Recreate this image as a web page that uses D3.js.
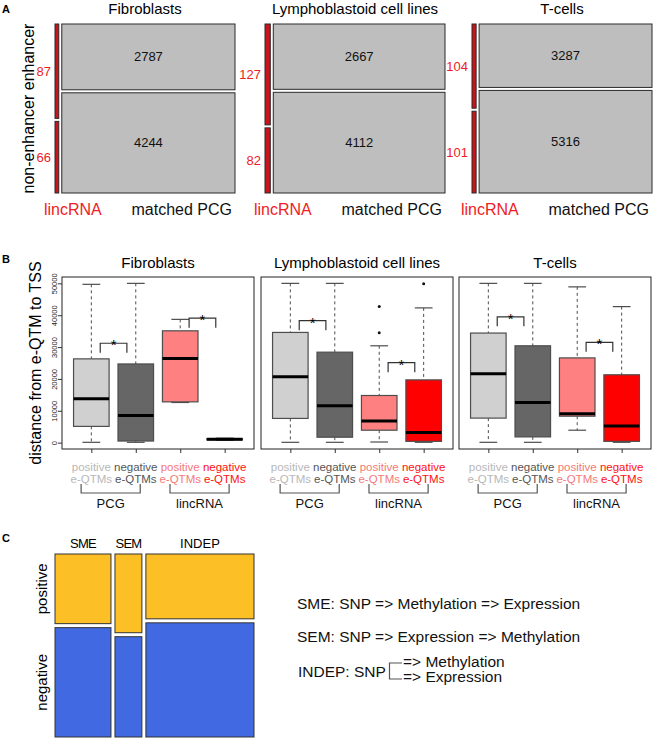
<!DOCTYPE html>
<html><head><meta charset="utf-8">
<script src="https://cdn.jsdelivr.net/npm/d3@7"></script>
<style>
body{margin:0;background:#fff;}
text{font-family:"Liberation Sans",Arial,Helvetica,sans-serif;}
</style>
</head><body>
<svg id="chart" width="653" height="742"></svg>
<script>
// ---------- DATA ----------
const cellTypes = ["Fibroblasts", "Lymphoblastoid cell lines", "T-cells"];

// Panel A: counts (enhancer / non-enhancer)
const aRows = ["enhancer", "non-enhancer"];
const aColumns = ["lincRNA", "matched PCG"];
const lincEnhancer = [87, 127, 104];
const lincNonEnhancer = [66, 82, 101];
const pcgEnhancer = [2787, 2667, 3287];
const pcgNonEnhancer = [4244, 4112, 5316];

// Panel B: box statistics [lower whisker, Q1, median, Q3, upper whisker]
const boxCategories = ["PCG positive", "PCG negative", "lincRNA positive", "lincRNA negative"];
const boxLabelTop = ["positive", "negative", "positive", "negative"];
const boxLabelBottom = ["e-QTMs", "e-QTMs", "e-QTMs", "e-QTMs"];
const boxGroups = ["PCG", "lincRNA"];
const yTicks = [0, 10000, 20000, 30000, 40000, 50000];
const fibroStats = [
  [100, 5100, 13800, 26300, 49700],
  [100, 500, 8500, 24700, 50000],
  [12600, 12800, 26400, 35100, 38700],
  [700, 850, 1050, 1250, 1400]
];
const lymphoStats = [
  [100, 7600, 20700, 34600, 50000],
  [100, 1700, 11600, 28400, 50000],
  [200, 3900, 6800, 14800, 30400],
  [100, 400, 3200, 19700, 42300]
];
const tcellStats = [
  [100, 7700, 21600, 34400, 50000],
  [100, 1800, 12600, 30400, 50000],
  [3900, 8300, 9100, 26600, 48900],
  [100, 400, 5200, 21300, 42700]
];
const fibroOutliers = [[], [], [], []];
const lymphoOutliers = [[], [], [34500, 42700], [49900]];
const tcellOutliers = [[], [], [], []];
const sigPCG = [31200, 38300, 39500];
const sigLinc = [39100, 25100, 31500];

// Panel C: counts
const cCategories = ["SME", "SEM", "INDEP"];
const cRows = ["positive", "negative"];
const cPositive = [114, 62, 205];
const cNegative = [179, 79, 361];
const cLegend = [
  "SME: SNP => Methylation => Expression",
  "SEM: SNP => Expression => Methylation"
];

// ---------- DRAW ----------
const svg = d3.select("#chart");
const RED = "#ee1c24";

function panelLetter(t, x, y) {
  svg.append("text").attr("x", x).attr("y", y).text(t)
    .attr("font-size", 11).attr("font-weight", "bold");
}

// ===== Panel A =====
panelLetter("A", 2, 13);
const aX0 = [55, 265, 472], aW = 180, aY0 = 24, aY1 = 193, aGap = 3;
svg.append("text")
  .attr("transform", `translate(33.5,${(aY0 + aY1) / 2}) rotate(-90)`)
  .attr("text-anchor", "middle").attr("font-size", 16)
  .text(aRows.slice().reverse().join(" "));

cellTypes.forEach((ct, i) => {
  const g = svg.append("g");
  const linVals = [lincEnhancer[i], lincNonEnhancer[i]];
  const pcgVals = [pcgEnhancer[i], pcgNonEnhancer[i]];
  const linTot = d3.sum(linVals), pcgTot = d3.sum(pcgVals);
  const xS = d3.scaleLinear().domain([0, linTot + pcgTot]).range([aX0[i], aX0[i] + aW - aGap]);
  const cols = [
    { name: aColumns[0], start: 0, total: linTot, vals: linVals, off: 0, fill: "#c8141a" },
    { name: aColumns[1], start: linTot, total: pcgTot, vals: pcgVals, off: aGap, fill: "#bebebe" }
  ];
  cols.forEach((c, ci) => {
    const yS = d3.scaleLinear().domain([0, c.total]).range([aY0, aY1 - aGap]);
    const x0 = xS(c.start) + c.off, x1 = xS(c.start + c.total) + c.off;
    let cum = 0;
    c.vals.forEach((v, j) => {
      const y0 = yS(cum) + j * aGap, y1 = yS(cum + v) + j * aGap;
      g.append("rect").attr("x", x0).attr("y", y0).attr("width", x1 - x0).attr("height", y1 - y0)
        .attr("fill", c.fill).attr("stroke", "#2a2a2a").attr("stroke-width", 1);
      if (ci === 0) {
        g.append("text").attr("x", x0 - 4).attr("y", (y0 + y1) / 2 + 4.5)
          .attr("text-anchor", "end").attr("font-size", 13).attr("fill", RED).text(v);
      } else {
        g.append("text").attr("x", (x0 + x1) / 2).attr("y", (y0 + y1) / 2 + 4.5)
          .attr("text-anchor", "middle").attr("font-size", 13).attr("fill", "#111").text(v);
      }
      cum += v;
    });
  });
  g.append("text").attr("x", aX0[i] + aW / 2).attr("y", 13.5).attr("text-anchor", "middle")
    .attr("font-size", 15).text(ct);
  g.append("text").attr("x", aX0[i] - 11).attr("y", 215).attr("font-size", 16)
    .attr("fill", RED).text(aColumns[0]);
  g.append("text").attr("x", aX0[i] + aW - 3).attr("y", 215).attr("font-size", 16)
    .attr("text-anchor", "end").attr("fill", "#111").text(aColumns[1]);
});

// ===== Panel B =====
panelLetter("B", 2, 263);
const statsByCell = [fibroStats, lymphoStats, tcellStats];
const outliersByCell = [fibroOutliers, lymphoOutliers, tcellOutliers];
const boxFill = ["#d0d0d0", "#666666", "#ff8080", "#ff0000"];
const labelFill = ["#b8b8b8", "#555555", "#f47a7a", "#ff1010"];
const bX0 = [62, 261, 459], bW = 192, bY0 = 277, bY1 = 449;
const yB = d3.scaleLinear().domain([-2000, 52000]).range([bY1, bY0]);

svg.append("text")
  .attr("transform", `translate(41,${(bY0 + bY1) / 2}) rotate(-90)`)
  .attr("text-anchor", "middle").attr("font-size", 16)
  .text("distance from e-QTM to TSS");

cellTypes.forEach((ct, i) => {
  const g = svg.append("g");
  const xB = d3.scaleLinear().domain([0.34, 4.66]).range([bX0[i], bX0[i] + bW]);
  const stats = statsByCell[i];
  const outs = outliersByCell[i];
  const pos = [1, 2, 3, 4];

  g.append("text").attr("x", bX0[i] + bW / 2).attr("y", 268).attr("text-anchor", "middle")
    .attr("font-size", 15).text(ct);

  stats.forEach((s, k) => {
    const cx = xB(pos[k]);
    const hw = xB(pos[k] + 0.4) - cx, sw = xB(pos[k] + 0.2) - cx;
    const [lo, q1, med, q3, hi] = s;
    // whiskers
    g.append("line").attr("x1", cx).attr("x2", cx).attr("y1", yB(hi)).attr("y2", yB(q3))
      .attr("stroke", "#4d4d4d").attr("stroke-dasharray", "3,3");
    g.append("line").attr("x1", cx).attr("x2", cx).attr("y1", yB(q1)).attr("y2", yB(lo))
      .attr("stroke", "#4d4d4d").attr("stroke-dasharray", "3,3");
    [hi, lo].forEach(v => {
      g.append("line").attr("x1", cx - sw).attr("x2", cx + sw).attr("y1", yB(v)).attr("y2", yB(v))
        .attr("stroke", "#4d4d4d").attr("stroke-width", 1.2);
    });
    g.append("rect").attr("x", cx - hw).attr("width", 2 * hw)
      .attr("y", yB(q3)).attr("height", Math.max(yB(q1) - yB(q3), 0.5))
      .attr("fill", boxFill[k]).attr("stroke", "#4d4d4d").attr("stroke-width", 1.2);
    g.append("line").attr("x1", cx - hw).attr("x2", cx + hw).attr("y1", yB(med)).attr("y2", yB(med))
      .attr("stroke", "#000").attr("stroke-width", 3);
    outs[k].forEach(v => {
      g.append("circle").attr("cx", cx).attr("cy", yB(v)).attr("r", 1.5).attr("fill", "#111");
    });
    // x labels
    g.append("text").attr("x", cx).attr("y", 471).attr("text-anchor", "middle")
      .attr("font-size", 11.5).attr("fill", labelFill[k]).text(boxLabelTop[k]);
    g.append("text").attr("x", cx).attr("y", 483).attr("text-anchor", "middle")
      .attr("font-size", 11.5).attr("fill", labelFill[k]).text(boxLabelBottom[k]);
  });

  // significance brackets
  [[1, sigPCG[i]], [3, sigLinc[i]]].forEach(([p, v]) => {
    const xa = xB(p + 0.2), xb = xB(p + 0.8), yt = yB(v), yl = yB(v - 3000);
    g.append("path").attr("d", `M${xa},${yl}V${yt}H${xb}V${yl}`)
      .attr("fill", "none").attr("stroke", "#333").attr("stroke-width", 1.2);
    g.append("text").attr("x", (xa + xb) / 2).attr("y", yt + 7).attr("text-anchor", "middle")
      .attr("font-size", 15).text("*");
  });

  // group brackets
  boxGroups.forEach((gr, gi) => {
    const p = 1 + gi * 2;
    const xa = xB(p - 0.23), xb = xB(p + 1.1);
    g.append("path").attr("d", `M${xa},484V493H${xb}V484`)
      .attr("fill", "none").attr("stroke", "#555").attr("stroke-width", 1.2);
    g.append("text").attr("x", (xa + xb) / 2).attr("y", 508).attr("text-anchor", "middle")
      .attr("font-size", 13).attr("fill", "#111").text(gr);
  });

  // x ticks
  const xAxis = d3.axisBottom(xB).tickValues(pos).tickFormat("").tickSize(4).tickSizeOuter(0);
  const xa = g.append("g").attr("transform", `translate(0,${bY1})`).call(xAxis);
  xa.select(".domain").remove();
  xa.selectAll("line").attr("stroke", "#333");

  // frame
  g.append("rect").attr("x", bX0[i]).attr("y", bY0).attr("width", bW).attr("height", bY1 - bY0)
    .attr("fill", "none").attr("stroke", "#222").attr("stroke-width", 1);

  if (i === 0) {
    const yAxis = d3.axisLeft(yB).tickValues(yTicks).tickSize(4).tickSizeOuter(0)
      .tickFormat(d3.format("d"));
    const ya = g.append("g").attr("transform", `translate(${bX0[i]},0)`).call(yAxis);
    ya.select(".domain").remove();
    ya.selectAll("line").attr("stroke", "#333");
    ya.selectAll("text").attr("transform", "rotate(-90)").attr("x", 0).attr("y", -5.5)
      .attr("dy", 0).attr("text-anchor", "middle").attr("font-size", 7.5)
      .attr("font-family", "'Liberation Sans',Arial,sans-serif").attr("fill", "#222");
  }
});

// ===== Panel C =====
panelLetter("C", 2, 542);
const cX0 = 55, cX1 = 254, cY0 = 554, cY1 = 737, cGap = 4;
const cTot = cCategories.map((c, i) => cPositive[i] + cNegative[i]);
const cSum = d3.sum(cTot);
const xC = d3.scaleLinear().domain([0, cSum]).range([cX0, cX1 - cGap * (cCategories.length - 1)]);
let cCum = 0;
cCategories.forEach((cat, i) => {
  const x0 = xC(cCum) + i * cGap, x1 = xC(cCum + cTot[i]) + i * cGap;
  const yC = d3.scaleLinear().domain([0, cTot[i]]).range([cY0, cY1 - cGap]);
  const yMid = yC(cPositive[i]);
  svg.append("rect").attr("x", x0).attr("y", cY0).attr("width", x1 - x0).attr("height", yMid - cY0)
    .attr("fill", "#fcbf26").attr("stroke", "#333").attr("stroke-width", 1);
  svg.append("rect").attr("x", x0).attr("y", yMid + cGap).attr("width", x1 - x0)
    .attr("height", cY1 - yMid - cGap)
    .attr("fill", "#4169e1").attr("stroke", "#333").attr("stroke-width", 1);
  svg.append("text").attr("x", (x0 + x1) / 2).attr("y", 548).attr("text-anchor", "middle")
    .attr("font-size", 13).attr("letter-spacing", cat === "INDEP" ? 0 : -0.8).text(cat);
  if (i === 0) {
    svg.append("text").attr("transform", `translate(47,${(cY0 + yMid) / 2}) rotate(-90)`)
      .attr("text-anchor", "middle").attr("font-size", 15).text(cRows[0]);
    svg.append("text").attr("transform", `translate(47,${(yMid + cGap + cY1) / 2}) rotate(-90)`)
      .attr("text-anchor", "middle").attr("font-size", 15).text(cRows[1]);
  }
  cCum += cTot[i];
});

// legend text
const lg = svg.append("g").attr("font-size", 15.5).attr("fill", "#111");
lg.append("text").attr("x", 297).attr("y", 609).text(cLegend[0]);
lg.append("text").attr("x", 297).attr("y", 642).text(cLegend[1]);
lg.append("text").attr("x", 298).attr("y", 677).text("INDEP: SNP");
lg.append("path").attr("d", "M402,663H389.5V679H402").attr("fill", "none")
  .attr("stroke", "#555").attr("stroke-width", 1.2);
lg.append("text").attr("x", 403).attr("y", 667).text("=> Methylation");
lg.append("text").attr("x", 403).attr("y", 682).text("=> Expression");
</script>
</body></html>
